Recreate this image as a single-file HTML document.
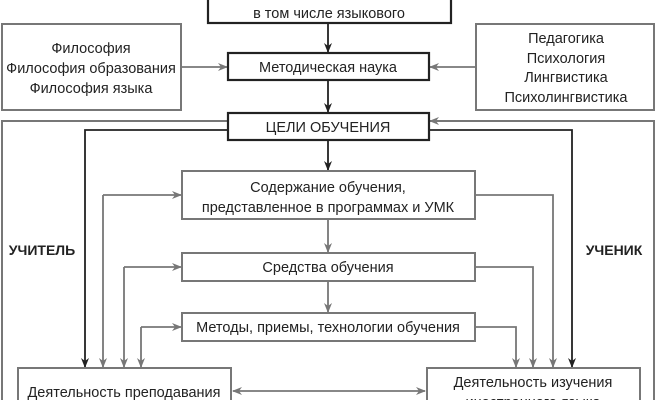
<!DOCTYPE html>
<html><head><meta charset="utf-8"><style>
html,body{margin:0;padding:0;background:#fff;}
svg{display:block;}
text{font-family:"Liberation Sans Narrow","Liberation Sans",sans-serif;font-size:14.5px;fill:#222;text-anchor:middle;}
.b{font-weight:bold;}
</style></head><body>
<svg width="656" height="400" viewBox="0 0 656 400" xmlns="http://www.w3.org/2000/svg">
<defs>
<marker id="ak" markerWidth="10" markerHeight="8" refX="9" refY="4" orient="auto" markerUnits="userSpaceOnUse"><path d="M0,0 L10,4 L0,8 L3,4 z" fill="#222"/></marker>
<marker id="ag" markerWidth="10" markerHeight="8" refX="9" refY="4" orient="auto" markerUnits="userSpaceOnUse"><path d="M0,0 L10,4 L0,8 L3,4 z" fill="#777"/></marker>
<marker id="ags" markerWidth="10" markerHeight="8" refX="1" refY="4" orient="auto" markerUnits="userSpaceOnUse"><path d="M10,0 L0,4 L10,8 L7,4 z" fill="#777"/></marker>
</defs>
<g fill="none">
<!-- outer gray frame -->
<rect x="2" y="121" width="652" height="290" stroke="#777" stroke-width="2"/>
<!-- top box -->
<rect x="208" y="-5" width="243" height="28" stroke="#222" stroke-width="2.2" fill="#fff"/>
<!-- side boxes -->
<rect x="2" y="24" width="179" height="86" stroke="#777" stroke-width="2" fill="#fff"/>
<rect x="476" y="24" width="178" height="86" stroke="#777" stroke-width="2" fill="#fff"/>
<!-- black lines -->
<line x1="328" y1="23" x2="328" y2="52" stroke="#222" stroke-width="1.8" marker-end="url(#ak)"/>
<line x1="328" y1="80" x2="328" y2="112" stroke="#222" stroke-width="1.8" marker-end="url(#ak)"/>
<line x1="328" y1="140" x2="328" y2="170" stroke="#222" stroke-width="1.8" marker-end="url(#ak)"/>
<polyline points="228,130 85,130 85,367" stroke="#222" stroke-width="1.8" marker-end="url(#ak)"/>
<polyline points="429,130 572,130 572,367" stroke="#222" stroke-width="1.8" marker-end="url(#ak)"/>
<!-- gray arrows -->
<line x1="181" y1="67" x2="227" y2="67" stroke="#777" stroke-width="1.8" marker-end="url(#ag)"/>
<line x1="476" y1="67" x2="430" y2="67" stroke="#777" stroke-width="1.8" marker-end="url(#ag)"/>
<line x1="654" y1="121" x2="430" y2="121" stroke="#777" stroke-width="1.8" marker-end="url(#ag)"/>
<line x1="328" y1="219" x2="328" y2="252" stroke="#777" stroke-width="1.8" marker-end="url(#ag)"/>
<line x1="328" y1="281" x2="328" y2="312" stroke="#777" stroke-width="1.8" marker-end="url(#ag)"/>
<line x1="103" y1="195" x2="181" y2="195" stroke="#777" stroke-width="1.8" marker-end="url(#ag)"/>
<line x1="103" y1="195" x2="103" y2="367" stroke="#777" stroke-width="1.8" marker-end="url(#ag)"/>
<line x1="124" y1="267" x2="181" y2="267" stroke="#777" stroke-width="1.8" marker-end="url(#ag)"/>
<line x1="124" y1="267" x2="124" y2="367" stroke="#777" stroke-width="1.8" marker-end="url(#ag)"/>
<line x1="141" y1="327" x2="181" y2="327" stroke="#777" stroke-width="1.8" marker-end="url(#ag)"/>
<line x1="141" y1="327" x2="141" y2="367" stroke="#777" stroke-width="1.8" marker-end="url(#ag)"/>
<polyline points="475,195 553,195 553,367" stroke="#777" stroke-width="1.8" marker-end="url(#ag)"/>
<polyline points="475,267 533,267 533,367" stroke="#777" stroke-width="1.8" marker-end="url(#ag)"/>
<polyline points="475,327 516,327 516,367" stroke="#777" stroke-width="1.8" marker-end="url(#ag)"/>
<line x1="233" y1="391" x2="425" y2="391" stroke="#777" stroke-width="1.8" marker-start="url(#ags)" marker-end="url(#ag)"/>
<!-- center boxes -->
<rect x="228" y="53" width="201" height="27" stroke="#222" stroke-width="2.2" fill="#fff"/>
<rect x="228" y="113" width="201" height="27" stroke="#222" stroke-width="2.2" fill="#fff"/>
<rect x="182" y="171" width="293" height="48" stroke="#777" stroke-width="2" fill="#fff"/>
<rect x="182" y="253" width="293" height="28" stroke="#777" stroke-width="2" fill="#fff"/>
<rect x="182" y="313" width="293" height="28" stroke="#777" stroke-width="2" fill="#fff"/>
<rect x="18" y="368" width="213" height="45" stroke="#777" stroke-width="2" fill="#fff"/>
<rect x="427" y="368" width="213" height="45" stroke="#777" stroke-width="2" fill="#fff"/>
</g>
<text x="329" y="18">в том числе языкового</text>
<text x="91" y="53">Философия</text>
<text x="91" y="73">Философия образования</text>
<text x="91" y="93">Философия языка</text>
<text x="566" y="43">Педагогика</text>
<text x="566" y="63">Психология</text>
<text x="566" y="82">Лингвистика</text>
<text x="566" y="102">Психолингвистика</text>
<text x="328" y="72">Методическая наука</text>
<text x="328" y="132">ЦЕЛИ ОБУЧЕНИЯ</text>
<text x="328" y="192">Содержание обучения,</text>
<text x="328" y="212">представленное в программах и УМК</text>
<text x="328" y="272">Средства обучения</text>
<text x="328" y="332">Методы, приемы, технологии обучения</text>
<text x="42" y="255" class="b" style="font-size:14px">УЧИТЕЛЬ</text>
<text x="614" y="255" class="b" style="font-size:14px">УЧЕНИК</text>
<text x="124" y="397">Деятельность преподавания</text>
<text x="533" y="387">Деятельность изучения</text>
<text x="533" y="407">иностранного языка</text>
</svg>
</body></html>
